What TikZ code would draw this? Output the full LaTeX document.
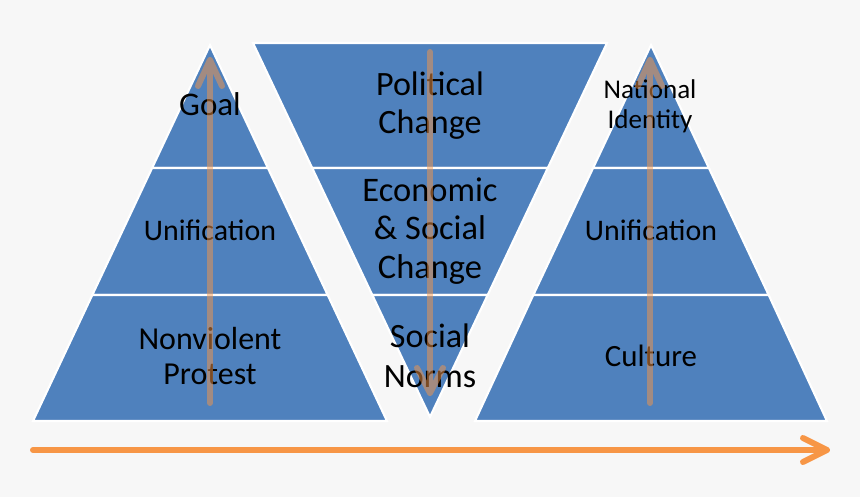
\documentclass[tikz,border=0pt]{standalone}
\usepackage{fontspec}
\setmainfont{Carlito}
\usepackage{xcolor}
\definecolor{bandblue}{HTML}{4F81BD}
\definecolor{flowor}{HTML}{F79646}
\definecolor{pagegray}{HTML}{F7F7F7}
\usetikzlibrary{positioning,calc}
\tikzset{
  band/.style   ={fill=bandblue, draw=white, line width=1.2pt, line join=miter},
  lbl/.style    ={align=center, inner sep=0pt, text=black},
  updown/.style ={draw=flowor, draw opacity=0.5, line width=3.4pt,
                  line cap=round, line join=round},
  timeline/.style={draw=flowor, line width=3.4pt, line cap=round, line join=round},
}
\newcommand{\fs}[2]{\fontsize{#1}{#2}\selectfont}

\begin{document}
\begin{tikzpicture}[x=0.02cm, y=-0.02cm]
  \useasboundingbox[fill=pagegray] (0,0) rectangle (860,497);

  % left pyramid
  \draw[band] (210,45) -- (267.9,168) -- (152.1,168) -- cycle;
  \draw[band] (152.1,168) -- (267.9,168) -- (327.7,295) -- (92.3,295) -- cycle;
  \draw[band] (92.3,295) -- (327.7,295) -- (387,421) -- (33,421) -- cycle;

  % middle (upside down)
  \draw[band] (253,43) -- (607,43) -- (547.8,168) -- (312.2,168) -- cycle;
  \draw[band] (312.2,168) -- (547.8,168) -- (487.7,295) -- (372.3,295) -- cycle;
  \draw[band] (372.3,295) -- (487.7,295) -- (430,417) -- cycle;

  % right pyramid
  \draw[band] (651,45) -- (708.9,168) -- (593.1,168) -- cycle;
  \draw[band] (593.1,168) -- (708.9,168) -- (768.7,295) -- (533.3,295) -- cycle;
  \draw[band] (533.3,295) -- (768.7,295) -- (827,421) -- (475,421) -- cycle;

  % labels
  \node[lbl, font=\fs{18.8pt}{20pt}] (goal) at (210,104) {Goal};
  \node[lbl, font=\fs{17pt}{19pt}] (unifl) at (210,230) {Unification};
  \node[lbl, font=\fs{18.2pt}{20pt}] (protest) at (210,356) {Nonviolent\\Protest};

  \node[lbl, font=\fs{19.4pt}{21.6pt}] (polit) at (430,106) {Political\\Change};
  \node[lbl, font=\fs{19.6pt}{21.8pt}] (econ) at (430,231) {Economic\\\& Social\\Change};
  \node[lbl, font=\fs{19.4pt}{22.6pt}] (norms) at (430,356) {Social\\Norms};

  \node[lbl, font=\fs{15.4pt}{17pt}] (nation) at (650,106) {National\\Identity};
  \node[lbl, font=\fs{17pt}{19pt}] (unifr) at (651,230) {Unification};
  \node[lbl, font=\fs{17.6pt}{19pt}] (culture) at (651,356) {Culture};

  % arrows through the pyramids
  \coordinate (lbot) at (210,403);
  \coordinate (ltop) at (210,60);
  \coordinate (mtop) at (430,52);
  \coordinate (mbot) at (430,393);
  \coordinate (rbot) at (650,403);
  \coordinate (rtop) at (650,60);
  \draw[updown] (lbot) -- (ltop) -- ++(-12,26) (ltop) -- ++(12,26);
  \draw[updown] (mtop) -- (mbot) -- ++(-13,-25) (mbot) -- ++(13,-25);
  \draw[updown] (rbot) -- (rtop) -- ++(-12,26) (rtop) -- ++(12,26);

  % time line
  \coordinate (tstart) at (33,450);
  \coordinate (tend) at (827,450);
  \draw[timeline] (tstart) -- (tend) -- ++(-24,-12) (tend) -- ++(-24,12);
\end{tikzpicture}
\end{document}
